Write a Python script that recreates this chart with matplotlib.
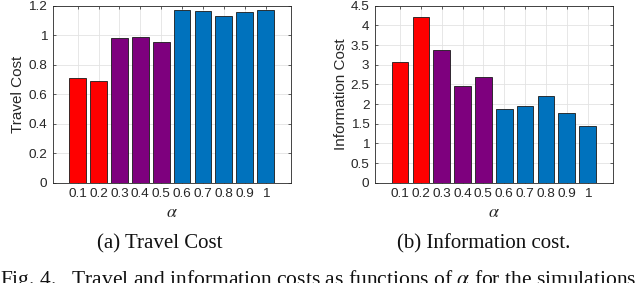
import matplotlib
matplotlib.use("Agg")
import matplotlib.pyplot as plt
import numpy as np

# data
alpha_labels = ['0.1', '0.2', '0.3', '0.4', '0.5', '0.6', '0.7', '0.8', '0.9', '1']
travel_cost = [0.71, 0.69, 0.98, 0.988, 0.955, 1.17, 1.162, 1.133, 1.16, 1.17]
info_cost = [3.06, 4.22, 3.38, 2.47, 2.68, 1.88, 1.96, 2.20, 1.78, 1.44]
bar_colors = ['#ff0000'] * 2 + ['#7e007e'] * 3 + ['#0072bd'] * 5

plt.rcParams['font.family'] = ['Liberation Sans', 'DejaVu Sans']
plt.rcParams['mathtext.fontset'] = 'stix'

fig = plt.figure(figsize=(6.4, 2.83), dpi=100)
W, H = 640.0, 283.0

def make_axes(left_px, right_px, values, ylim, yticks, ytlabels, ylabel):
    ax = fig.add_axes([left_px / W, 1 - 182.7 / H, (right_px - left_px) / W, (182.7 - 5.7) / H])
    x = np.arange(1, len(values) + 1)
    ax.bar(x, values, width=0.8, color=bar_colors, edgecolor='#1a1a1a', linewidth=0.6, zorder=3)
    ax.set_xlim(-0.2, 11.22)
    ax.set_ylim(*ylim)
    ax.set_xticks(x)
    ax.set_xticklabels(alpha_labels)
    ax.set_yticks(yticks)
    ax.set_yticklabels(ytlabels)
    ax.grid(True, color='#e3e3e3', linewidth=0.6, zorder=0)
    ax.set_axisbelow(True)
    ax.tick_params(direction='in', length=2.5, width=0.5, top=True, right=True,
                   labelsize=9.7, colors='#262626', pad=4)
    for s in ax.spines.values():
        s.set_color('#262626')
        s.set_linewidth(0.6)
    ax.set_ylabel(ylabel, fontsize=11, color='#262626', labelpad=2)
    ax.set_xlabel(r'$\alpha$', fontsize=13, color='#262626', labelpad=3)
    return ax

ax1 = make_axes(52.7, 291.0, travel_cost, (0, 1.2),
                [0, 0.2, 0.4, 0.6, 0.8, 1.0, 1.2], ['0', '0.2', '0.4', '0.6', '0.8', '1', '1.2'],
                'Travel Cost')
ax2 = make_axes(375.0, 613.0, info_cost, (0, 4.5),
                [0, 0.5, 1, 1.5, 2, 2.5, 3, 3.5, 4, 4.5],
                ['0', '0.5', '1', '1.5', '2', '2.5', '3', '3.5', '4', '4.5'],
                'Information Cost')

# sub-captions and figure caption
fig.text(159.5 / W, 1 - 244 / H, '(a) Travel Cost', family='Liberation Serif',
         fontsize=15, ha='center', va='center', color='#111111')
fig.text(484 / W, 1 - 244 / H, '(b) Information cost.', family='Liberation Serif',
         fontsize=15, ha='center', va='center', color='#111111')
fig.text(0.0, 1 - 268 / H, r'Fig. 4.   Travel and information costs as functions of $\alpha$ for the simulations',
         family='Liberation Serif', fontsize=15.5, ha='left', va='top', color='#111111')

fig.savefig('out.png', dpi=100)
